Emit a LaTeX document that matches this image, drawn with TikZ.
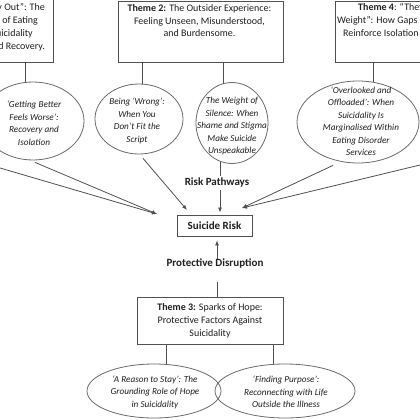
\documentclass[tikz,border=0pt]{standalone}
\usepackage{fontspec}
\setmainfont{Carlito}
\usetikzlibrary{shapes.geometric,arrows.meta,calc}
\definecolor{ln}{HTML}{505050}
\definecolor{el}{HTML}{6A6A6A}
\definecolor{tx}{HTML}{1E1E1E}
\newcommand{\padd}[1]{\rule{#1}{0pt}}
\begin{document}
\begin{tikzpicture}[x=1pt,y=-1pt,
 box/.style={draw=ln, line width=0.9pt, rectangle, inner sep=0pt},
 ell/.style={draw=el, line width=0.8pt, ellipse, inner sep=0pt},
 btxt/.style={text=tx, align=center, font=\fontsize{10}{12.8}\selectfont, inner sep=0pt},
 etxt/.style={text=tx, align=center, font=\fontsize{9.2}{12.5}\selectfont\itshape, inner sep=0pt},
 lbl/.style={text=tx, font=\fontsize{11}{12}\selectfont\bfseries, inner sep=1pt},
 conn/.style={draw=ln, line width=0.8pt},
 arr/.style={conn, -{Latex[length=5pt,width=4pt]}},
]
\useasboundingbox (0,0) rectangle (420,420);
\clip (0,0) rectangle (420,420);

% Theme boxes
\node[box, minimum width=173pt, minimum height=63pt] (t1) at (-33.5,30.5) {};
\node[btxt, align=right, anchor=north east] (t1x) at (45,3.5) {\textbf{Theme 1:} “Never Truly Out”: The\\Interplay of Eating\padd{7pt}\\Disorders and Suicidality\padd{12pt}\\Throughout Illness and Recovery.};

\node[box, minimum width=165pt, minimum height=61pt] (t2) at (200.5,31.5) {};
\node[btxt, anchor=north] (t2x) at (199.5,4) {\textbf{Theme 2:} The Outsider Experience:\\Feeling Unseen, Misunderstood,\\and Burdensome.};

\node[box, minimum width=170pt, minimum height=61pt] (t4) at (420,31.5) {};
\node[btxt, align=left, anchor=north west] (t4x) at (337,3.5) {\padd{21pt}\textbf{Theme 4}: “They’ve Carried the\\Weight”: How Gaps in Care Services\\\padd{6pt}Reinforce Isolation and Risk};

% Ellipses (theme sub-themes)
\node[ell, minimum width=102pt, minimum height=78pt] (e1) at (33,121) {};
\node[etxt] (e1x) at (34,123) {‘Getting Better\\Feels Worse’:\\Recovery and\\Isolation};

\node[ell, minimum width=88pt, minimum height=70pt] (e2) at (139,119) {};
\node[etxt] (e2x) at (137,121) {Being ‘Wrong’:\\When You\\Don’t Fit the\\Script};

\node[ell, minimum width=72pt, minimum height=81pt] (e3) at (232,123) {};
\node[etxt] (e3x) at (232,126.5) {The Weight of\\Silence: When\\Shame and Stigma\\Make Suicide\\Unspeakable};

\node[ell, minimum width=122pt, minimum height=82pt] (e4) at (358,122) {};
\node[etxt] (e4x) at (361,121) {‘Overlooked and\\Offloaded’: When\\Suicidality Is\\Marginalised Within\\Eating Disorder\\Services};

% Centre
\node[lbl] (rp) at (217,183) {Risk Pathways};
\node[box, minimum width=75pt, minimum height=21pt, font=\fontsize{11}{12}\selectfont\bfseries, text=tx] (sr) at (214.5,225.5) {Suicide Risk};
\node[lbl] (pd) at (215,263) {Protective Disruption};

\node[box, minimum width=146pt, minimum height=47pt] (t3) at (210,320.5) {};
\node[btxt] (t3x) at (t3) {\textbf{Theme 3:} Sparks of Hope:\\Protective Factors Against\\Suicidality};

\node[ell, minimum width=134pt, minimum height=54pt] (e5) at (154,391) {};
\node[etxt] (e5x) at (155,392) {‘A Reason to Stay’: The\\Grounding Role of Hope\\in Suicidality};
\node[ell, minimum width=140pt, minimum height=54pt] (e6) at (285,391) {};
\node[etxt] (e6x) at (286,392) {‘Finding Purpose’:\\Reconnecting with Life\\Outside the Illness};

% free ends
\coordinate (tipL) at (157,214);
\coordinate (tip2) at (187,210);
\coordinate (tipR) at (242,208);
\coordinate (offL) at (-60,150.4);
\coordinate (offR) at (480,150.5);

% theme -> subtheme connectors
\draw[conn] ([xshift=-8pt]e1.north |- t1.south) -- ([xshift=-8pt]e1.north);
\draw[conn] ([xshift=3pt]e2.north |- t2.south) -- ([xshift=3pt]e2.north);
\draw[conn] ([xshift=-9pt]e3.north |- t2.south) -- ($(e3.north)+(-9,1.5)$);
\draw[conn] ([xshift=15pt]e4.north |- t4.south) -- ($(e4.north)+(15,1.5)$);

% risk pathways
\draw[arr] ($(e1.south)+(2,2)$) -- (tipL);
\draw[arr] (offL) -- (tipL);
\draw[arr] ($(e2.south)+(4,4)$) -- (tip2);
\draw[arr] ($(e4.south)+(-25,2)$) -- (tipR);
\draw[arr] (offR) -- (tipR);
\draw[conn] ($(e3.south)+(-12,-2)$) -- ($(rp.north)+(3,-1)$);
\draw[arr, shorten >=2pt] ($(rp.south)+(3,1)$) -- (sr.north -| 220,0);

% protective disruption
\draw[arr, shorten >=4pt] ($(pd.north)+(2,2)$) -- (sr.south -| 217,0);
\draw[conn] ($(pd.south)+(2,13)$) -- (t3.north -| 217,0);
\draw[conn] (t3.south -| 166,0) -- ($(e5.north)+(12,0.5)$);
\draw[conn] (t3.south -| 273,0) -- ($(e6.north)+(-12,0.5)$);
\end{tikzpicture}
\end{document}
